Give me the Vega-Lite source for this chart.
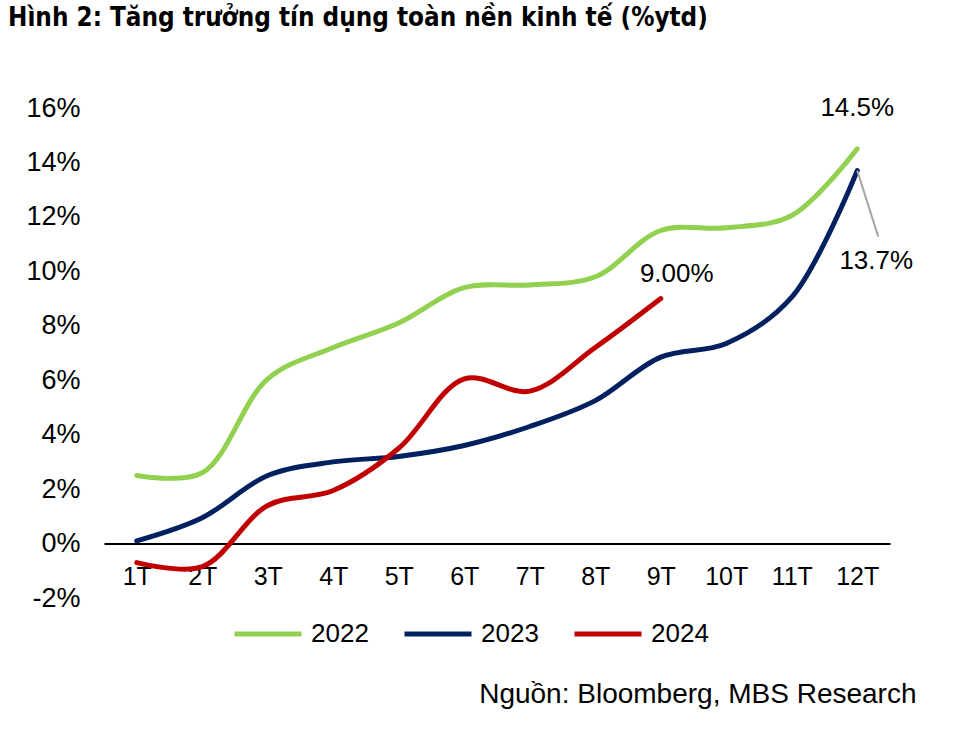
{
  "$schema": "https://vega.github.io/schema/vega-lite/v6.json",
  "autosize": "none",
  "padding": {"left": 104, "top": 108, "right": 79, "bottom": 136},
  "width": 786,
  "height": 490,
  "background": "white",
  "config": {
    "font": "Liberation Sans",
    "view": {"stroke": null}
  },
  "title": {
    "text": "Hình 2: Tăng trưởng tín dụng toàn nền kinh tế (%ytd)",
    "anchor": "start",
    "frame": "group",
    "font": "DejaVu Sans Condensed",
    "fontSize": 25.8,
    "fontWeight": "bold",
    "color": "black",
    "dx": -96,
    "offset": 62
  },
  "datasets": {
    "credit": [
      {"month": "1T", "year": "2022", "value": 2.5},
      {"month": "2T", "year": "2022", "value": 2.6},
      {"month": "3T", "year": "2022", "value": 6.05},
      {"month": "4T", "year": "2022", "value": 7.2},
      {"month": "5T", "year": "2022", "value": 8.1},
      {"month": "6T", "year": "2022", "value": 9.4},
      {"month": "7T", "year": "2022", "value": 9.5},
      {"month": "8T", "year": "2022", "value": 9.8},
      {"month": "9T", "year": "2022", "value": 11.5},
      {"month": "10T", "year": "2022", "value": 11.6},
      {"month": "11T", "year": "2022", "value": 12.05},
      {"month": "12T", "year": "2022", "value": 14.5},
      {"month": "1T", "year": "2023", "value": 0.1},
      {"month": "2T", "year": "2023", "value": 0.95},
      {"month": "3T", "year": "2023", "value": 2.5},
      {"month": "4T", "year": "2023", "value": 3.0},
      {"month": "5T", "year": "2023", "value": 3.2},
      {"month": "6T", "year": "2023", "value": 3.6},
      {"month": "7T", "year": "2023", "value": 4.3},
      {"month": "8T", "year": "2023", "value": 5.25},
      {"month": "9T", "year": "2023", "value": 6.85},
      {"month": "10T", "year": "2023", "value": 7.35},
      {"month": "11T", "year": "2023", "value": 9.05},
      {"month": "12T", "year": "2023", "value": 13.7},
      {"month": "1T", "year": "2024", "value": -0.7},
      {"month": "2T", "year": "2024", "value": -0.85},
      {"month": "3T", "year": "2024", "value": 1.4},
      {"month": "4T", "year": "2024", "value": 1.95},
      {"month": "5T", "year": "2024", "value": 3.5},
      {"month": "6T", "year": "2024", "value": 6.05},
      {"month": "7T", "year": "2024", "value": 5.6},
      {"month": "8T", "year": "2024", "value": 7.2},
      {"month": "9T", "year": "2024", "value": 9.0}
    ],
    "notes": [
      {"month": "12T", "value": 14.5, "label": "14.5%"},
      {"month": "9T", "value": 9.0, "label": "9.00%"},
      {"month": "12T", "value": 13.7, "label": "13.7%"}
    ]
  },
  "layer": [
    {
      "data": {"name": "credit"},
      "mark": {"type": "line", "interpolate": "catmull-rom", "strokeWidth": 5, "strokeCap": "round", "strokeJoin": "round"},
      "encoding": {
        "x": {
          "field": "month",
          "type": "ordinal",
          "scale": {"type": "point", "padding": 0.5, "domain": ["1T","2T","3T","4T","5T","6T","7T","8T","9T","10T","11T","12T"]},
          "axis": {
            "title": "Nguồn: Bloomberg, MBS Research",
            "titleFontSize": 28,
            "titleFontWeight": "normal",
            "titleColor": "black",
            "titleAlign": "right",
            "titleAnchor": "end",
            "titleBaseline": "alphabetic",
            "titleX": 812,
            "titleY": 159,
            "offset": -54.5,
            "domainColor": "black",
            "domainWidth": 2,
            "ticks": false,
            "labelAngle": 0,
            "labelFontSize": 25,
            "labelColor": "black",
            "labelPadding": 21,
            "grid": false
          }
        },
        "y": {
          "field": "value",
          "type": "quantitative",
          "scale": {"domain": [-2, 16], "nice": false, "zero": false},
          "axis": {
            "title": null,
            "values": [-2, 0, 2, 4, 6, 8, 10, 12, 14, 16],
            "labelExpr": "datum.value + '%'",
            "labelFontSize": 27,
            "labelColor": "black",
            "labelPadding": 24,
            "ticks": false,
            "domain": false,
            "grid": false
          }
        },
        "color": {
          "field": "year",
          "type": "nominal",
          "scale": {"domain": ["2022", "2023", "2024"], "range": ["#92D050", "#002060", "#C00000"]},
          "legend": {
            "title": null,
            "orient": "none",
            "direction": "horizontal",
            "legendX": 128,
            "legendY": 490,
            "symbolType": "stroke",
            "symbolSize": 4489,
            "symbolStrokeWidth": 5,
            "labelFontSize": 26,
            "labelColor": "black",
            "labelOffset": 7,
            "columnPadding": 25
          }
        }
      }
    },
    {
      "data": {"name": "notes"},
      "transform": [{"filter": "datum.label == '13.7%'"}],
      "mark": {"type": "rule", "color": "#A6A6A6", "strokeWidth": 2, "x2Offset": 21, "y2Offset": 66},
      "encoding": {
        "x": {"field": "month", "type": "ordinal"},
        "x2": {"field": "month"},
        "y": {"field": "value", "type": "quantitative"},
        "y2": {"field": "value"}
      }
    },
    {
      "data": {"name": "notes"},
      "transform": [{"filter": "datum.label == '14.5%'"}],
      "mark": {"type": "text", "fontSize": 26, "color": "black", "dy": -41},
      "encoding": {
        "x": {"field": "month", "type": "ordinal"},
        "y": {"field": "value", "type": "quantitative"},
        "text": {"field": "label"}
      }
    },
    {
      "data": {"name": "notes"},
      "transform": [{"filter": "datum.label == '9.00%'"}],
      "mark": {"type": "text", "fontSize": 26, "color": "black", "dx": 16, "dy": -25},
      "encoding": {
        "x": {"field": "month", "type": "ordinal"},
        "y": {"field": "value", "type": "quantitative"},
        "text": {"field": "label"}
      }
    },
    {
      "data": {"name": "notes"},
      "transform": [{"filter": "datum.label == '13.7%'"}],
      "mark": {"type": "text", "fontSize": 26, "color": "black", "dx": 19, "dy": 90},
      "encoding": {
        "x": {"field": "month", "type": "ordinal"},
        "y": {"field": "value", "type": "quantitative"},
        "text": {"field": "label"}
      }
    }
  ]
}
